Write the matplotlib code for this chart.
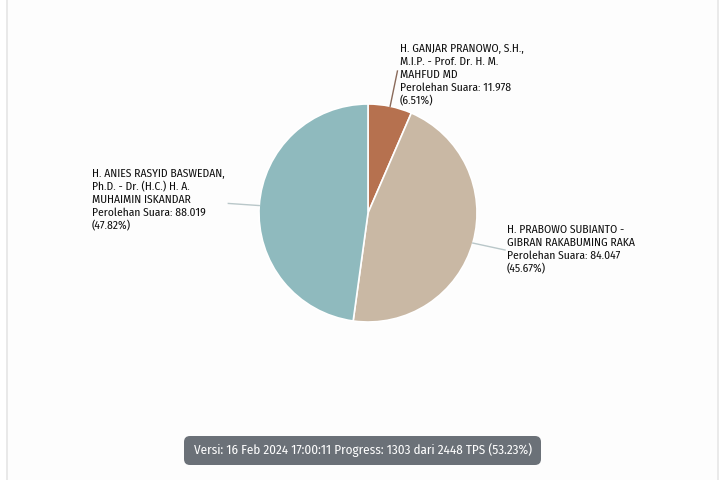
import matplotlib
matplotlib.use("Agg")
import matplotlib.pyplot as plt
from matplotlib.patches import FancyBboxPatch, Rectangle
import numpy as np

names = ["H. GANJAR PRANOWO, S.H.,\nM.I.P. - Prof. Dr. H. M.\nMAHFUD MD",
         "H. PRABOWO SUBIANTO -\nGIBRAN RAKABUMING RAKA",
         "H. ANIES RASYID BASWEDAN,\nPh.D. - Dr. (H.C.) H. A.\nMUHAIMIN ISKANDAR"]
votes = [11978, 84047, 88019]
colors = ["#b6714f", "#c9b8a4", "#8fbabe"]
footer = "Versi: 16 Feb 2024 17:00:11 Progress: 1303 dari 2448 TPS (53.23%)"

FONT = ["Fira Sans Condensed", "DejaVu Sans"]

W, H = 720, 480
fig = plt.figure(figsize=(7.2, 4.8), dpi=100)
fig.patch.set_facecolor("white")
ax = fig.add_axes([0, 0, 1, 1])

# panel background and borders
ax.add_patch(Rectangle((6, 0), 711, H, facecolor="#fdfdfd", edgecolor="none", zorder=0))
ax.plot([6.5, 6.5], [0, H], color="#e6e6e6", lw=1.2, zorder=1)
ax.plot([717.5, 717.5], [0, H], color="#e6e6e6", lw=1.2, zorder=1)

cx, cy, r = 368, H - 213, 109
wedges, _ = ax.pie(votes, colors=colors, startangle=90, counterclock=False,
                   center=(cx, cy), radius=r, frame=True,
                   wedgeprops=dict(edgecolor="white", linewidth=1.2))
ax.set_xlim(0, W)
ax.set_ylim(0, H)
ax.set_aspect("equal")
ax.axis("off")

total = sum(votes)
pcts = [v / total * 100 for v in votes]

def fmt(v):
    return f"{v:,}".replace(",", ".")

# label placement (pixel coords, top-left of text) and connector geometry
label_pos = [(400, 44), (507, 225), (92, 169)]
conn_angle = [None, -16, None]
conn_len = [36, 32, 31]

for i, w in enumerate(wedges):
    mid = (w.theta1 + w.theta2) / 2 if conn_angle[i] is None else conn_angle[i]
    a = np.deg2rad(mid)
    x0, y0 = cx + r * np.cos(a), cy + r * np.sin(a)
    x1, y1 = cx + (r + conn_len[i]) * np.cos(a), cy + (r + conn_len[i]) * np.sin(a)
    if i == 1:
        x1, y1 = 505, H - 250
    ax.plot([x0, x1], [y0, y1], color="#b9c7c9" if i != 0 else "#8a6a5a",
            lw=1.0, zorder=3)
    txt = f"{names[i]}\nPerolehan Suara: {fmt(votes[i])}\n({pcts[i]:.2f}%)"
    lx, ly = label_pos[i]
    ax.text(lx, H - ly, txt, ha="left", va="top", fontsize=8.3, color="#0d0d0d",
            family=FONT, linespacing=1.25, zorder=4)

# footer box
bx0, bx1, by0, by1 = 184, 541, H - 465, H - 436
ax.add_patch(FancyBboxPatch((bx0, by0), bx1 - bx0, by1 - by0,
                            boxstyle="round,pad=0,rounding_size=6",
                            facecolor="#6b7178", edgecolor="none", zorder=5))
ax.text((bx0 + bx1) / 2, (by0 + by1) / 2, footer, ha="center", va="center",
        fontsize=9.4, color="white", family=FONT, zorder=6)

fig.savefig("out.png", dpi=100)
